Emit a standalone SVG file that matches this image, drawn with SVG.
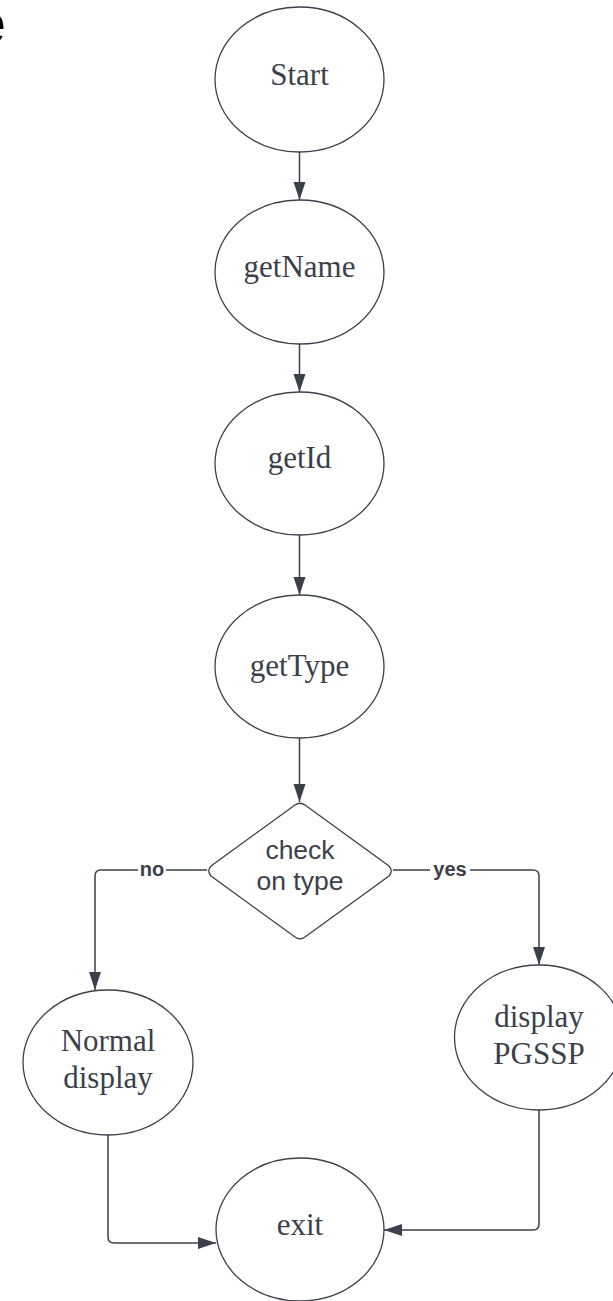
<svg xmlns="http://www.w3.org/2000/svg" width="613" height="1301" viewBox="0 0 613 1301">
<defs>
<style>
.node{fill:#ffffff;stroke:#3a414a;stroke-width:1.3}
.t{font-family:"Liberation Serif","Times New Roman",serif;font-size:31px;fill:#3a414a;text-anchor:middle}
.d{font-family:"Liberation Sans",Arial,sans-serif;font-size:26.5px;fill:#3a414a;text-anchor:middle}
.lbl{font-family:"Liberation Sans",Arial,sans-serif;font-size:20px;font-weight:bold;fill:#3a414a;text-anchor:middle}
.c{fill:none;stroke:#3a414a;stroke-width:1.5}
</style>
<marker id="ah" markerUnits="userSpaceOnUse" markerWidth="20" markerHeight="14" refX="18" refY="6" orient="auto">
<path d="M0,0 L18,6 L0,12 Z" fill="#3a414a"/>
</marker>
</defs>
<rect width="613" height="1301" fill="#ffffff"/>
<text x="6" y="43" font-family="Liberation Sans,Arial,sans-serif" font-size="58" fill="#000000" text-anchor="end">e</text>
<g id="connectors">
<path class="c" d="M299.5,152 V200" marker-end="url(#ah)"/>
<path class="c" d="M299.5,344 V392" marker-end="url(#ah)"/>
<path class="c" d="M299.5,535 V595" marker-end="url(#ah)"/>
<path class="c" d="M299.5,738 V802" marker-end="url(#ah)"/>
<path class="c" d="M207,870 H101 Q95,870 95,876 V990" marker-end="url(#ah)"/>
<path class="c" d="M393,870 H533 Q539,870 539,876 V965" marker-end="url(#ah)"/>
<path class="c" d="M108,1135 V1237 Q108,1243 114,1243 H216" marker-end="url(#ah)"/>
<path class="c" d="M539,1110 V1224 Q539,1230 533,1230 H384" marker-end="url(#ah)"/>
<rect x="138" y="860" width="28" height="20" fill="#ffffff"/>
<text class="lbl" x="152" y="876">no</text>
<rect x="430" y="860" width="40" height="20" fill="#ffffff"/>
<text class="lbl" x="450" y="876">yes</text>
</g>
<g id="start">
<ellipse class="node" cx="299.5" cy="79.5" rx="84.5" ry="72.5"/>
<text class="t" x="299.5" y="85">Start</text>
</g>
<g id="getName">
<ellipse class="node" cx="299.5" cy="272" rx="84.5" ry="72"/>
<text class="t" x="299.5" y="277">getName</text>
</g>
<g id="getId">
<ellipse class="node" cx="299.5" cy="463.5" rx="84.5" ry="71.5"/>
<text class="t" x="299.5" y="468">getId</text>
</g>
<g id="getType">
<ellipse class="node" cx="299.5" cy="666.5" rx="84.5" ry="71.5"/>
<text class="t" x="299.5" y="676">getType</text>
</g>
<g id="check">
<path class="node" d="M295,805 Q300,801.5 305,805 L389,866 Q393.5,871 389,876 L305,937 Q300,940.5 295,937 L211,876 Q206.5,871 211,866 Z"/>
<text class="d" x="300" y="859">check</text>
<text class="d" x="300" y="890">on type</text>
</g>
<g id="normal">
<ellipse class="node" cx="108" cy="1062.5" rx="85" ry="72.5"/>
<text class="t" x="108" y="1051">Normal</text>
<text class="t" x="108" y="1088">display</text>
</g>
<g id="pgssp">
<ellipse class="node" cx="539" cy="1037.5" rx="84.5" ry="72.5"/>
<text class="t" x="539" y="1027">display</text>
<text class="t" x="539" y="1064">PGSSP</text>
</g>
<g id="exit">
<ellipse class="node" cx="300" cy="1229.5" rx="84" ry="71.5"/>
<text class="t" x="300" y="1235">exit</text>
</g>
</svg>
